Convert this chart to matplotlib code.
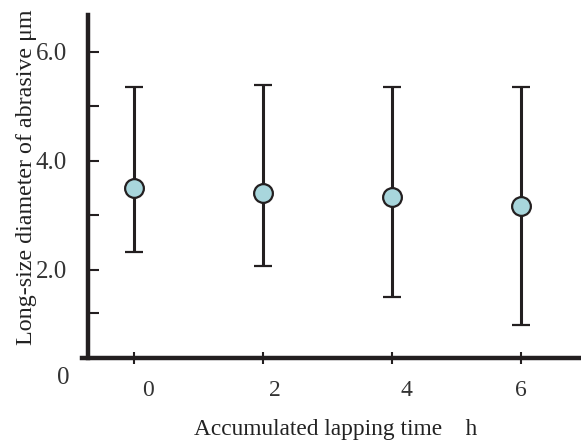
import matplotlib
matplotlib.use("Agg")
import matplotlib.pyplot as plt
from matplotlib.transforms import ScaledTranslation

# Accumulated lapping time (h) and long-size abrasive diameter (µm)
lapping_time = [0, 2, 4, 6]
mean_diameter = [3.49, 3.41, 3.34, 3.17]
upper_diameter = [5.35, 5.38, 5.35, 5.35]
lower_diameter = [2.33, 2.06, 1.49, 0.99]

x_ticks = [0, 2, 4, 6]
x_tick_labels = ["0", "2", "4", "6"]
y_ticks = [1.2, 2, 3, 4, 5, 6]
y_tick_labels = ["", "2.0", "", "4.0", "", "6.0"]

plt.rcParams["font.family"] = ["Liberation Serif", "DejaVu Serif"]
ink = "#231f20"

fig = plt.figure(figsize=(5.81, 4.41), dpi=100)
ax = fig.add_axes([82 / 581, 1 - 358 / 441, 499 / 581, 343 / 441])

err_lo = [m - l for m, l in zip(mean_diameter, lower_diameter)]
err_hi = [u - m for m, u in zip(mean_diameter, upper_diameter)]
ax.errorbar(lapping_time, mean_diameter, yerr=[err_lo, err_hi],
            fmt="o", color=ink, ecolor=ink, elinewidth=2.2, capsize=6.6,
            capthick=2.4, markersize=13.5, markerfacecolor="#a8d6dc",
            markeredgecolor=ink, markeredgewidth=1.6, zorder=3)

ax.set_xlim(-0.806, 6.93)
ax.set_ylim(0.378, 6.674)

for side in ("top", "right"):
    ax.spines[side].set_visible(False)
for side in ("left", "bottom"):
    ax.spines[side].set_linewidth(3.2)
    ax.spines[side].set_color(ink)
ax.spines["left"].set_position(("axes", 6 / 499))

ax.set_xticks(x_ticks)
ax.set_xticklabels(x_tick_labels)
ax.set_yticks(y_ticks)
ax.set_yticklabels(y_tick_labels)
ax.tick_params(axis="x", direction="inout", length=9, width=1.5, color=ink,
               pad=11, labelsize=17, labelcolor="#333333")
ax.tick_params(axis="y", direction="in", length=8, width=1.5, color=ink,
               pad=15, labelsize=18, labelcolor="#333333")

# hour labels sit slightly right of their tick marks
for lbl, dx in zip(ax.get_xticklabels(), [14, 12, 14, 0]):
    lbl.set_transform(lbl.get_transform() + ScaledTranslation(dx / 100, 0, fig.dpi_scale_trans))

fig.text(63 / 581, 1 - 378 / 441, "0", ha="center", va="center",
         fontsize=18, color="#333333")
fig.text(336 / 581, 1 - 430 / 441, "Accumulated lapping time\u2003h",
         ha="center", va="center", fontsize=16.8, color="#222222")
fig.text(27 / 581, 1 - 177 / 441, "Long-size diameter of abrasive \u03bcm",
         ha="center", va="center", rotation=90, fontsize=17.3, color="#222222")

fig.savefig("out.png", dpi=100)
